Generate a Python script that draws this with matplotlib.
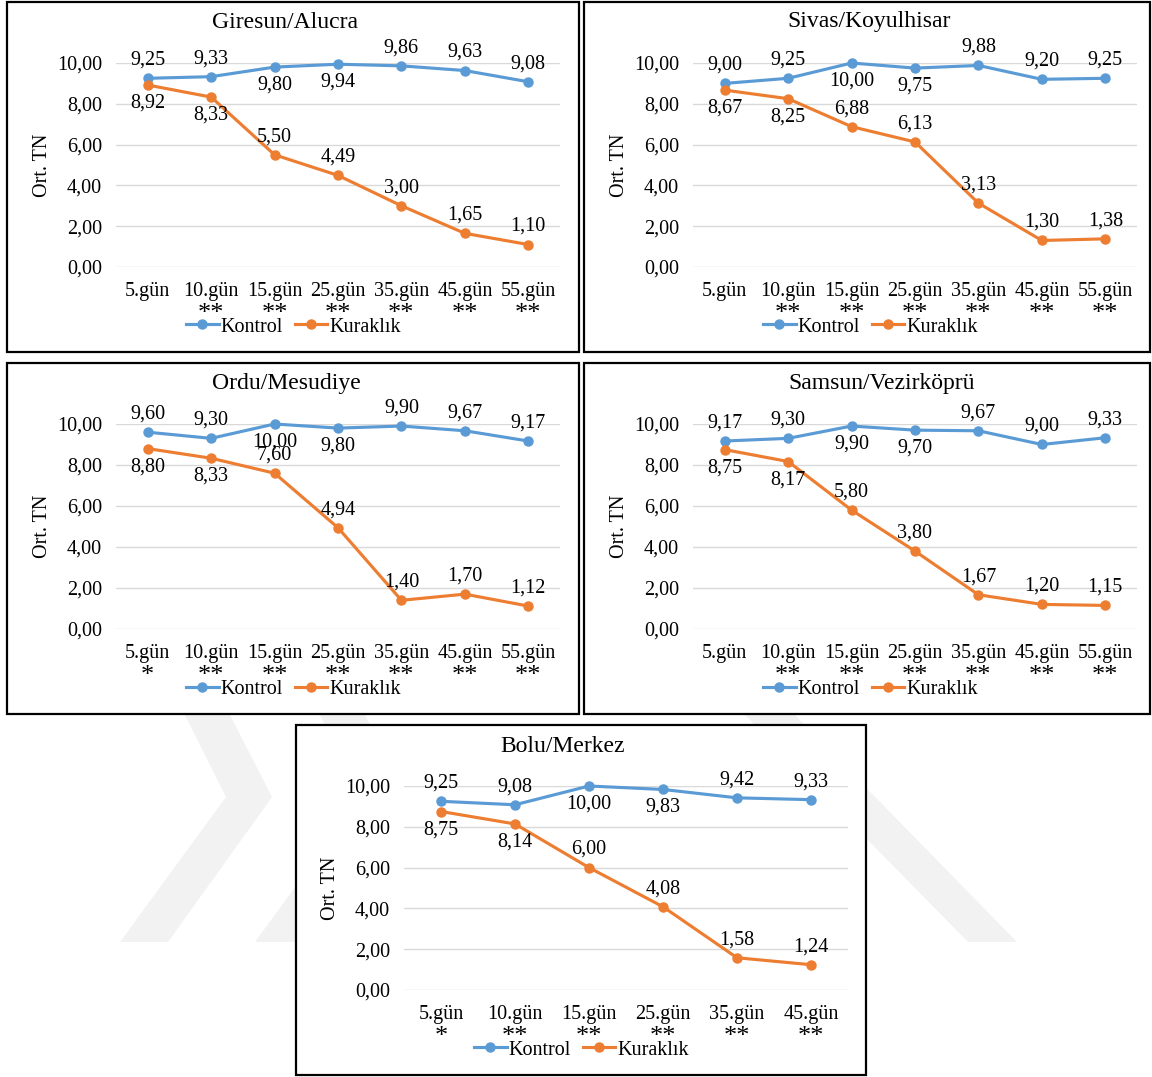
import matplotlib
matplotlib.use("Agg")
import matplotlib.pyplot as plt
from matplotlib.patches import Rectangle, Polygon
from matplotlib.lines import Line2D

plt.rcParams['font.family'] = 'Liberation Serif'
plt.rcParams['font.size'] = 14.5

W, H = 1152, 1077

gunler = ["5.gün", "10.gün", "15.gün", "25.gün", "35.gün", "45.gün", "55.gün"]

# Giresun/Alucra
giresun_kontrol = [9.25, 9.33, 9.80, 9.94, 9.86, 9.63, 9.08]
giresun_kuraklik = [8.92, 8.33, 5.50, 4.49, 3.00, 1.65, 1.10]
giresun_yildiz = ["", "**", "**", "**", "**", "**", "**"]

# Sivas/Koyulhisar
sivas_kontrol = [9.00, 9.25, 10.00, 9.75, 9.88, 9.20, 9.25]
sivas_kuraklik = [8.67, 8.25, 6.88, 6.13, 3.13, 1.30, 1.38]
sivas_yildiz = ["", "**", "**", "**", "**", "**", "**"]

# Ordu/Mesudiye
ordu_kontrol = [9.60, 9.30, 10.00, 9.80, 9.90, 9.67, 9.17]
ordu_kuraklik = [8.80, 8.33, 7.60, 4.94, 1.40, 1.70, 1.12]
ordu_yildiz = ["*", "**", "**", "**", "**", "**", "**"]

# Samsun/Vezirköprü
samsun_kontrol = [9.17, 9.30, 9.90, 9.70, 9.67, 9.00, 9.33]
samsun_kuraklik = [8.75, 8.17, 5.80, 3.80, 1.67, 1.20, 1.15]
samsun_yildiz = ["", "**", "**", "**", "**", "**", "**"]

# Bolu/Merkez (55. gün yok)
bolu_kontrol = [9.25, 9.08, 10.00, 9.83, 9.42, 9.33]
bolu_kuraklik = [8.75, 8.14, 6.00, 4.08, 1.58, 1.24]
bolu_yildiz = ["*", "**", "**", "**", "**", "**"]

# etiket yönleri: 1 = üstte, -1 = altta
kontrol_yon = [1, 1, -1, -1, 1, 1, 1]
kuraklik_yon = [-1, -1, 1, 1, 1, 1, 1]

MAVI = "#5B9BD5"
TURUNCU = "#ED7D31"

fig = plt.figure(figsize=(W / 100, H / 100), dpi=100)


def px_rect(l, t, r, b):
    return [l / W, 1 - b / H, (r - l) / W, (b - t) / H]


# arka plandaki soluk filigran
filigran = [
    [(185, 715), (230, 715), (272, 797), (168, 942), (120, 942), (226, 797)],
    [(320, 715), (365, 715), (407, 797), (303, 942), (255, 942), (361, 797)],
    [(745, 715), (795, 715), (1017, 942), (968, 942)],
]
for poly in filigran:
    pts = [(x / W, 1 - y / H) for x, y in poly]
    fig.patches.append(Polygon(pts, closed=True, transform=fig.transFigure,
                               facecolor="#f2f2f2", edgecolor="none", zorder=-3))

paneller = [
    ("Giresun/Alucra", gunler, giresun_kontrol, giresun_kuraklik, giresun_yildiz,
     (7, 2, 579, 352), (116, 63, 560, 267), (285, 22)),
    ("Sivas/Koyulhisar", gunler, sivas_kontrol, sivas_kuraklik, sivas_yildiz,
     (584, 2, 1150, 352), (693, 63, 1137, 267), (869, 22)),
    ("Ordu/Mesudiye", gunler, ordu_kontrol, ordu_kuraklik, ordu_yildiz,
     (7, 363, 579, 714), (116, 424, 560, 629), (286, 384)),
    ("Samsun/Vezirköprü", gunler, samsun_kontrol, samsun_kuraklik, samsun_yildiz,
     (584, 363, 1150, 714), (693, 424, 1137, 629), (882, 384)),
    ("Bolu/Merkez", gunler[:6], bolu_kontrol, bolu_kuraklik, bolu_yildiz,
     (296, 725, 866, 1075), (404, 786, 848, 990), (563, 746)),
]


def fmt(v):
    return f"{v:.2f}".replace(".", ",")


for baslik, gun, kontrol, kuraklik, yildiz, kutu, eksen, bpos in paneller:
    l, t, r, b = kutu
    fig.patches.append(Rectangle((l / W, 1 - b / H), (r - l) / W, (b - t) / H,
                                 transform=fig.transFigure, facecolor="white",
                                 edgecolor="black", linewidth=1.6, zorder=-1))
    fig.text(bpos[0] / W, 1 - bpos[1] / H, baslik, ha="center", va="center", fontsize=17)

    ax = fig.add_axes(px_rect(*eksen))
    ax.set_facecolor("none")
    x = list(range(len(gun)))
    ax.plot(x, kontrol, color=MAVI, lw=2.25, marker="o", ms=6.5, clip_on=False, zorder=3)
    ax.plot(x, kuraklik, color=TURUNCU, lw=2.25, marker="o", ms=6.5, clip_on=False, zorder=3)

    for i in x:
        ax.annotate(fmt(kontrol[i]), xy=(i, kontrol[i]), xytext=(0, 13 * kontrol_yon[i]),
                    textcoords="offset points", ha="center", va="center", annotation_clip=False)
        ax.annotate(fmt(kuraklik[i]), xy=(i, kuraklik[i]), xytext=(0, 13 * kuraklik_yon[i]),
                    textcoords="offset points", ha="center", va="center", annotation_clip=False)
        ax.annotate(yildiz[i], xy=(i, 0), xycoords=("data", "axes fraction"),
                    xytext=(0, -38), textcoords="offset points", ha="center",
                    va="baseline", fontsize=19, annotation_clip=False)

    ax.set_xlim(-0.5, len(gun) - 0.5)
    ax.set_ylim(0, 10)
    ax.set_xticks(x)
    ax.set_xticklabels(gun)
    ax.set_yticks([0, 2, 4, 6, 8, 10])
    ax.set_yticklabels([fmt(v) for v in [0, 2, 4, 6, 8, 10]])
    ax.tick_params(length=0)
    ax.tick_params(axis="y", pad=10)
    ax.tick_params(axis="x", pad=11)
    ax.grid(axis="y", color="#d9d9d9", lw=1)
    ax.set_axisbelow(True)
    for s in ax.spines.values():
        s.set_visible(False)

    ax.annotate("Ort. TN", xy=(0, 0.5), xycoords="axes fraction", xytext=(-53, 0),
                textcoords="offset points", rotation=90, ha="center", va="center")

    tut = [Line2D([], [], color=MAVI, lw=2.25, marker="o", ms=6.5),
           Line2D([], [], color=TURUNCU, lw=2.25, marker="o", ms=6.5)]
    ax.legend(tut, ["Kontrol", "Kuraklık"], loc="center", bbox_to_anchor=(0.40, -0.294),
              ncol=2, frameon=False, handlelength=1.6, handletextpad=0.1,
              columnspacing=0.6, borderpad=0, fontsize=14.5)

fig.savefig("out.png", dpi=100)
